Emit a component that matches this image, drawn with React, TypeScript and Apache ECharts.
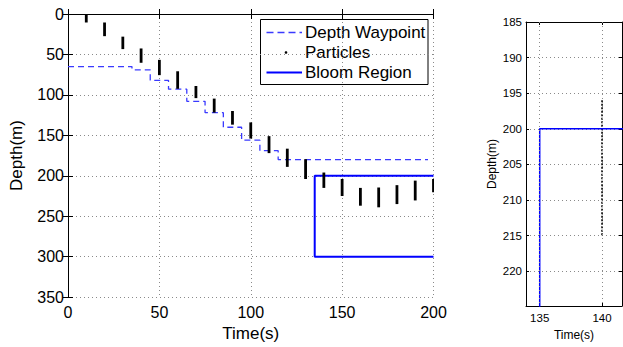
import React, { useEffect, useRef } from 'react';
import * as echarts from 'echarts';

// Particle clusters: time (s), shallowest depth (m), deepest depth (m)
const particleTime = [10, 20, 30, 40, 50, 60, 70, 80, 90, 100, 110, 120, 130, 140, 150, 160, 170, 180, 190, 200];
const particleTop = [0, 10.5, 28, 42.6, 56.7, 70.8, 89, 104.6, 119.9, 134, 151, 166.5, 179.5, 196, 204, 215, 214.5, 211.6, 206, 204];
const particleBottom = [10.5, 27.4, 43.4, 60.3, 75.6, 92.5, 104, 121.9, 136.8, 154, 172, 189, 204, 215, 225, 237, 239, 235, 230.5, 220.5];

// Depth waypoint (step function, value holds from each time onward)
const waypointTime = [0, 35, 45, 55, 65, 75, 85, 95, 105, 115, 197];
const waypointDepth = [65, 69, 82, 93, 108, 122, 140, 156, 169, 180, 180];

// Bloom region outline
const bloomTime = [200, 135, 135, 200];
const bloomDepth = [200, 200, 300, 300];

// Zoomed panel x ticks
const zoomXTicks = [135, 140];

const FONT = "'Liberation Sans', Arial, Helvetica, sans-serif";
const GRID_COLOR = '#8a8a8a';

export default function App() {
  const ref = useRef<HTMLDivElement>(null);

  useEffect(() => {
    if (!ref.current) return;
    const chart = echarts.init(ref.current, null, { renderer: 'svg' });

    const waypointData = waypointTime.map((t, i) => [t, waypointDepth[i]]);
    const bloomData = bloomTime.map((t, i) => [t, bloomDepth[i]]);
    const particleData = particleTime.map((t, i) => [t, particleTop[i], particleBottom[i]]);

    const makeRender = (width: number, dash: number[] | null) => (params: any, api: any) => {
      const t = api.value(0);
      const p1 = api.coord([t, api.value(1)]);
      const p2 = api.coord([t, api.value(2)]);
      return {
        type: 'line',
        shape: { x1: p1[0], y1: p1[1], x2: p2[0], y2: p2[1] },
        style: { stroke: '#000', lineWidth: width, lineDash: dash || undefined },
      };
    };

    const axisLine = { show: true, lineStyle: { color: '#000', width: 1 } };
    const tick = { show: true, inside: true, length: 5, lineStyle: { color: '#000' } };
    const split = { show: true, lineStyle: { color: GRID_COLOR, type: [1, 3], width: 1 } };

    const option: any = {
      animation: false,
      backgroundColor: '#fff',
      textStyle: { fontFamily: FONT },
      grid: [
        { left: 63, top: 14, width: 370.5, height: 290 },
        { left: 526, top: 22, width: 96, height: 284 },
      ],
      xAxis: [
        {
          type: 'value', gridIndex: 0, min: 0, max: 200, interval: 50,
          axisLine, axisTick: tick, splitLine: split,
          axisLabel: { fontSize: 16, color: '#000', margin: 7, fontFamily: FONT },
          name: 'Time(s)', nameLocation: 'middle', nameGap: 25,
          nameTextStyle: { fontSize: 17, color: '#000', fontFamily: FONT },
        },
        {
          type: 'value', gridIndex: 0, position: 'top', min: 0, max: 200, interval: 50,
          axisLine, axisTick: tick, splitLine: { show: false }, axisLabel: { show: false },
        },
        {
          type: 'value', gridIndex: 1, min: 133.9, max: 141.6,
          axisLine,
          axisTick: { ...tick, length: 3, customValues: zoomXTicks },
          splitLine: { show: false },
          axisLabel: { fontSize: 11.5, color: '#000', margin: 6, fontFamily: FONT, customValues: zoomXTicks },
          name: 'Time(s)', nameLocation: 'middle', nameGap: 15,
          nameTextStyle: { fontSize: 12, color: '#000', fontFamily: FONT },
        },
        {
          type: 'value', gridIndex: 1, position: 'top', min: 133.9, max: 141.6,
          axisLine,
          axisTick: { ...tick, length: 3, customValues: zoomXTicks },
          splitLine: { show: false }, axisLabel: { show: false },
        },
      ],
      yAxis: [
        {
          type: 'value', gridIndex: 0, min: 0, max: 350, interval: 50, inverse: true,
          axisLine, axisTick: tick, splitLine: split,
          axisLabel: { fontSize: 16, color: '#000', margin: 4, fontFamily: FONT },
          name: 'Depth(m)', nameLocation: 'middle', nameGap: 43,
          nameTextStyle: { fontSize: 17, color: '#000', fontFamily: FONT },
        },
        {
          type: 'value', gridIndex: 0, position: 'right', min: 0, max: 350, interval: 50, inverse: true,
          axisLine, axisTick: tick, splitLine: { show: false }, axisLabel: { show: false },
        },
        {
          type: 'value', gridIndex: 1, min: 185, max: 224.9, interval: 5, inverse: true,
          axisLine, axisTick: { ...tick, length: 3 }, splitLine: split,
          axisLabel: {
            fontSize: 11.5, color: '#000', margin: 4, fontFamily: FONT,
            formatter: (v: number) => (Math.abs(v % 5) < 1e-6 ? String(v) : ''),
          },
          name: 'Depth(m)', nameLocation: 'middle', nameGap: 28,
          nameTextStyle: { fontSize: 12, color: '#000', fontFamily: FONT },
        },
        {
          type: 'value', gridIndex: 1, position: 'right', min: 185, max: 224.9, interval: 5, inverse: true,
          axisLine, axisTick: { ...tick, length: 3 }, splitLine: { show: false }, axisLabel: { show: false },
        },
      ],
      series: [
        {
          name: 'Depth Waypoint', type: 'line', xAxisIndex: 0, yAxisIndex: 0,
          data: waypointData, step: 'end', showSymbol: false, clip: true,
          lineStyle: { color: '#3a3aff', width: 1.3, type: [6, 4] }, z: 3,
        },
        {
          name: 'Bloom Region', type: 'line', xAxisIndex: 0, yAxisIndex: 0,
          data: bloomData, showSymbol: false, clip: true,
          lineStyle: { color: '#0000ff', width: 2 }, z: 3,
        },
        {
          name: 'Particles', type: 'custom', xAxisIndex: 0, yAxisIndex: 0,
          data: particleData, renderItem: makeRender(2.8, null), clip: true, z: 4,
          encode: { x: 0, y: [1, 2] },
        },
        {
          name: 'Depth Waypoint', type: 'line', xAxisIndex: 2, yAxisIndex: 2,
          data: waypointData, step: 'end', showSymbol: false, clip: true,
          lineStyle: { color: '#3a3aff', width: 1, type: [5, 3] }, z: 3,
          markLine: {
            silent: true, symbol: 'none', label: { show: false },
            lineStyle: { color: GRID_COLOR, type: [1, 3], width: 1 },
            data: zoomXTicks.map((v) => ({ xAxis: v })),
          },
        },
        {
          name: 'Bloom Region', type: 'line', xAxisIndex: 2, yAxisIndex: 2,
          data: bloomData, showSymbol: false, clip: true,
          lineStyle: { color: '#0000ff', width: 1.5 }, z: 4,
        },
        {
          name: 'Particles', type: 'custom', xAxisIndex: 2, yAxisIndex: 2,
          data: particleData, renderItem: makeRender(1.6, [2, 1.5]), clip: true, z: 4,
          encode: { x: 0, y: [1, 2] },
        },
      ],
      graphic: [
        {
          type: 'group', z: 100,
          children: [
            { type: 'rect', shape: { x: 260.5, y: 19.5, width: 167.5, height: 65 }, style: { fill: '#fff', stroke: '#000', lineWidth: 1 } },
            { type: 'line', shape: { x1: 266.5, y1: 32.5, x2: 302, y2: 32.5 }, style: { stroke: '#3a3aff', lineWidth: 1.3, lineDash: [7, 4] } },
            { type: 'text', x: 305, y: 32.5, style: { text: 'Depth Waypoint', fontSize: 17, fontFamily: FONT, fill: '#000', verticalAlign: 'middle', align: 'left' } },
            { type: 'circle', shape: { cx: 286, cy: 52.5, r: 1.3 }, style: { fill: '#000' } },
            { type: 'text', x: 305, y: 52.5, style: { text: 'Particles', fontSize: 17, fontFamily: FONT, fill: '#000', verticalAlign: 'middle', align: 'left' } },
            { type: 'line', shape: { x1: 266.5, y1: 72.5, x2: 302, y2: 72.5 }, style: { stroke: '#0000ff', lineWidth: 2 } },
            { type: 'text', x: 305, y: 72.5, style: { text: 'Bloom Region', fontSize: 17, fontFamily: FONT, fill: '#000', verticalAlign: 'middle', align: 'left' } },
          ],
        },
      ],
    };

    chart.setOption(option);
    return () => chart.dispose();
  }, []);

  return (
    <div
      ref={ref}
      style={{ position: 'fixed', left: 0, top: 0, width: 623, height: 347, background: '#fff' }}
    />
  );
}
